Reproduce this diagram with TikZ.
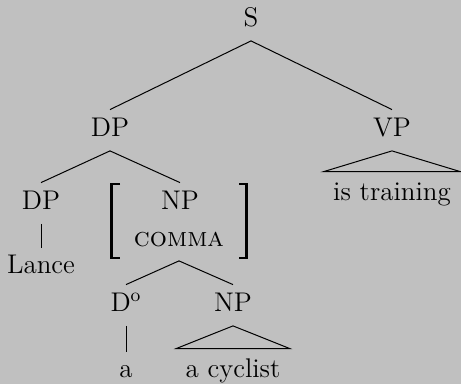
\documentclass[tikz,border=0pt]{standalone}
\usetikzlibrary{calc}
\definecolor{bg}{RGB}{192,192,192}
\begin{document}
\begin{tikzpicture}[x=0.5pt,y=-0.5pt,
  font=\fontsize{13.5pt}{16pt}\selectfont,
  lbl/.style={anchor=base, inner sep=0pt, text height=13.5pt, text depth=6.75pt},
  leaf/.style={anchor=base, inner sep=0pt, text height=13pt, text depth=6.5pt},
  tleaf/.style={anchor=base, inner sep=0pt, text height=14.5pt, text depth=3pt},
  edge/.style={line width=0.5pt},
  brk/.style={line width=1.2pt}]
\fill[bg] (0,0) rectangle (461,384);
\useasboundingbox (0,0) rectangle (461,384);
\node[lbl] (S) at (251,27) {S};
\node[lbl] (DP) at (110,137) {DP};
\node[lbl] (VP) at (392,137) {VP};
\node[lbl] (DP2) at (41,210) {DP};
\node[lbl] (NP) at (180,210) {NP};
\node[lbl] (comma) at (179,247) {\textsc{comma}};
\node[lbl] (D) at (126,312) {D\textsuperscript{o}};
\node[lbl] (NP2) at (233,312) {NP};
\node[leaf] (lance) at (41,274) {Lance};
\node[leaf] (a) at (126,378) {a};
\node[tleaf] (istr) at (392,201) {is training};
\node[tleaf] (acyc) at (233,378) {a cyclist};
\draw[edge] (S.south) -- (DP.north);
\draw[edge] (S.south) -- (VP.north);
\draw[edge] (DP.south) -- (DP2.north);
\draw[edge] (DP.south) -- (NP.north);
\draw[edge] (DP2.south) -- (lance.north);
\draw[edge] (comma.south) -- (D.north);
\draw[edge] (comma.south) -- (NP2.north);
\draw[edge] (D.south) -- (a.north);
\draw[edge] (VP.south) -- ($(istr.north east)+(9,0)$) -- ($(istr.north west)+(-9,0)$) -- cycle;
\draw[edge] (NP2.south) -- ($(acyc.north east)+(9,0)$) -- ($(acyc.north west)+(-9,0)$) -- cycle;
\draw[brk] (120,184) -- (111.5,184) -- (111.5,258) -- (120,258);
\draw[brk] (239,184) -- (246.5,184) -- (246.5,258) -- (239,258);
\end{tikzpicture}
\end{document}
